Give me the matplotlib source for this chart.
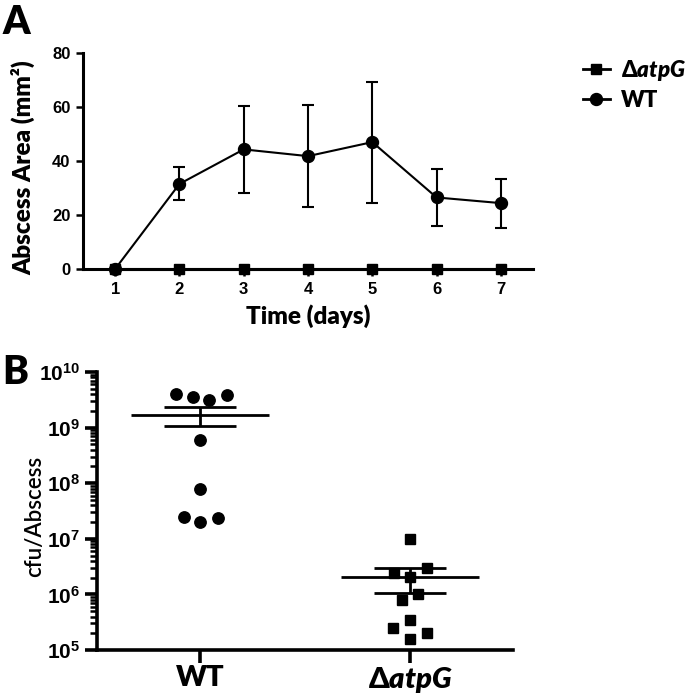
"""
Abscess area over time (A) and bacterial load per abscess (B), WT vs atpG mutant.
"""
import numpy as np
import matplotlib
matplotlib.use("Agg")
import matplotlib.pyplot as plt
from matplotlib.lines import Line2D
from matplotlib.ticker import LogLocator, FuncFormatter, NullFormatter

# --- panel A: abscess area (mm^2) per day ---
days = [1, 2, 3, 4, 5, 6, 7]
wt_area = [0, 31.5, 44.3, 41.8, 47.0, 26.5, 24.4]
wt_area_err = [0, 6.1, 16.0, 19.0, 22.4, 10.6, 9.1]
atpg_area = [0, 0, 0, 0, 0, 0, 0]

# --- panel B: cfu per abscess ---
groups = ["WT", "ΔatpG"]
wt_cfu = [4.1e9, 3.5e9, 3.2e9, 3.8e9, 5.9e8, 7.8e7, 2.5e7, 2.0e7, 2.35e7]
wt_jitter = [-0.114, -0.035, 0.044, 0.127, 0.0, 0.0, -0.076, 0.0, 0.084]
atpg_cfu = [1.0e7, 2.95e6, 2.4e6, 2.04e6, 1.0e6, 7.9e5, 3.5e5, 2.5e5, 2.0e5, 1.58e5]
atpg_jitter = [0.0, 0.081, -0.078, 0.0, 0.04, -0.04, 0.0, -0.08, 0.081, 0.0]

LABEL_FONT = "Lato"
TICK_FONT = "Liberation Sans"

plt.rcParams["mathtext.fontset"] = "custom"
plt.rcParams["mathtext.bf"] = "Liberation Sans:bold"
plt.rcParams["mathtext.rm"] = "Lato:heavy"
plt.rcParams["mathtext.bfit"] = "Lato:italic:heavy"

DELTA_ATPG = r"$\mathrm{\Delta}\mathbfit{atpG}$"

W, H = 692, 698
fig = plt.figure(figsize=(W / 100, H / 100), dpi=100)


def px_axes(left, top, right, bottom):
    return fig.add_axes([left / W, 1 - bottom / H, (right - left) / W, (bottom - top) / H])


def style_spines(ax, lw=2.2):
    for side in ("top", "right"):
        ax.spines[side].set_visible(False)
    for side in ("left", "bottom"):
        ax.spines[side].set_linewidth(lw)


# ---------------- panel A ----------------
axA = px_axes(83, 53, 533, 269)
style_spines(axA)
axA.errorbar(days, wt_area, yerr=wt_area_err, color="black", marker="o", ms=8.6,
             lw=1.5, elinewidth=1.5, capsize=4.5, capthick=1.5, clip_on=False, zorder=3)
axA.plot(days, atpg_area, color="black", marker="s", ms=7.5, lw=2.2, clip_on=False, zorder=4)
axA.set_xlim(0.5, 7.5)
axA.set_ylim(0, 80)
axA.set_xticks(days)
axA.set_yticks([0, 20, 40, 60, 80])
axA.tick_params(axis="both", direction="out", width=1.8, length=5, pad=4)
for lab in axA.get_xticklabels() + axA.get_yticklabels():
    lab.set_fontfamily(TICK_FONT)
    lab.set_fontweight("bold")
    lab.set_fontsize(12)
axA.set_ylabel("Abscess Area (mm²)", fontfamily=LABEL_FONT, fontweight="heavy", fontsize=17.5)
axA.yaxis.set_label_coords(-0.105, 0.47)
axA.set_xlabel("Time (days)", fontfamily=LABEL_FONT, fontweight="heavy", fontsize=17.5)
axA.xaxis.set_label_coords(0.5, -0.165)

handles = [
    Line2D([], [], color="black", marker="s", ms=7.5, lw=2),
    Line2D([], [], color="black", marker="o", ms=8.6, lw=2),
]
fig.legend(handles, [DELTA_ATPG, "WT"], loc="upper left",
           bbox_to_anchor=(572 / W, 1 - 47 / H), frameon=False, handlelength=1.2,
           handletextpad=0.5, labelspacing=0.3, borderpad=0,
           prop={"family": LABEL_FONT, "weight": "heavy", "size": 16})

fig.text(2 / W, 1 - 4 / H, "A", fontfamily=LABEL_FONT, fontweight="heavy", fontsize=28,
         va="top", ha="left")

# ---------------- panel B ----------------
axB = px_axes(97, 372, 513, 650)
style_spines(axB, lw=2.6)
axB.set_yscale("log")
axB.set_ylim(1e5, 1e10)
axB.set_xlim(-0.49, 1.49)

for i, (vals, jit, mk, ms) in enumerate([(wt_cfu, wt_jitter, "o", 8.2),
                                          (atpg_cfu, atpg_jitter, "s", 7.3)]):
    vals = np.array(vals)
    axB.plot(i + np.array(jit), vals, linestyle="none", marker=mk, ms=ms,
             color="black", zorder=3, clip_on=False)
    mean = vals.mean()
    sem = vals.std(ddof=1) / np.sqrt(len(vals))
    axB.hlines(mean, i - 0.33, i + 0.33, color="black", lw=2)
    axB.hlines([mean - sem, mean + sem], i - 0.17, i + 0.17, color="black", lw=2)
    axB.vlines(i, mean - sem, mean + sem, color="black", lw=2)

axB.set_xticks([0, 1])
axB.set_xticklabels(["WT", DELTA_ATPG], fontfamily=LABEL_FONT, fontweight="heavy", fontsize=21)
axB.tick_params(axis="x", direction="out", width=2.6, length=9, pad=2)
axB.yaxis.set_major_locator(LogLocator(base=10, numticks=10))
axB.yaxis.set_minor_locator(LogLocator(base=10, subs=np.arange(2, 10), numticks=10))
axB.yaxis.set_major_formatter(FuncFormatter(lambda v, p: r"$\mathbf{10^{%d}}$" % round(np.log10(v))))
axB.yaxis.set_minor_formatter(NullFormatter())
axB.tick_params(axis="y", which="major", direction="out", width=2.6, length=9, pad=3,
                labelsize=15)
axB.tick_params(axis="y", which="minor", direction="out", width=1.8, length=5)
axB.set_ylabel("cfu/Abscess", fontfamily=LABEL_FONT, fontweight="semibold", fontsize=16)
axB.yaxis.set_label_coords(-0.125, 0.48)

fig.text(2 / W, 1 - 354 / H, "B", fontfamily=LABEL_FONT, fontweight="heavy", fontsize=28,
         va="top", ha="left")

fig.savefig("out.png", dpi=100)
